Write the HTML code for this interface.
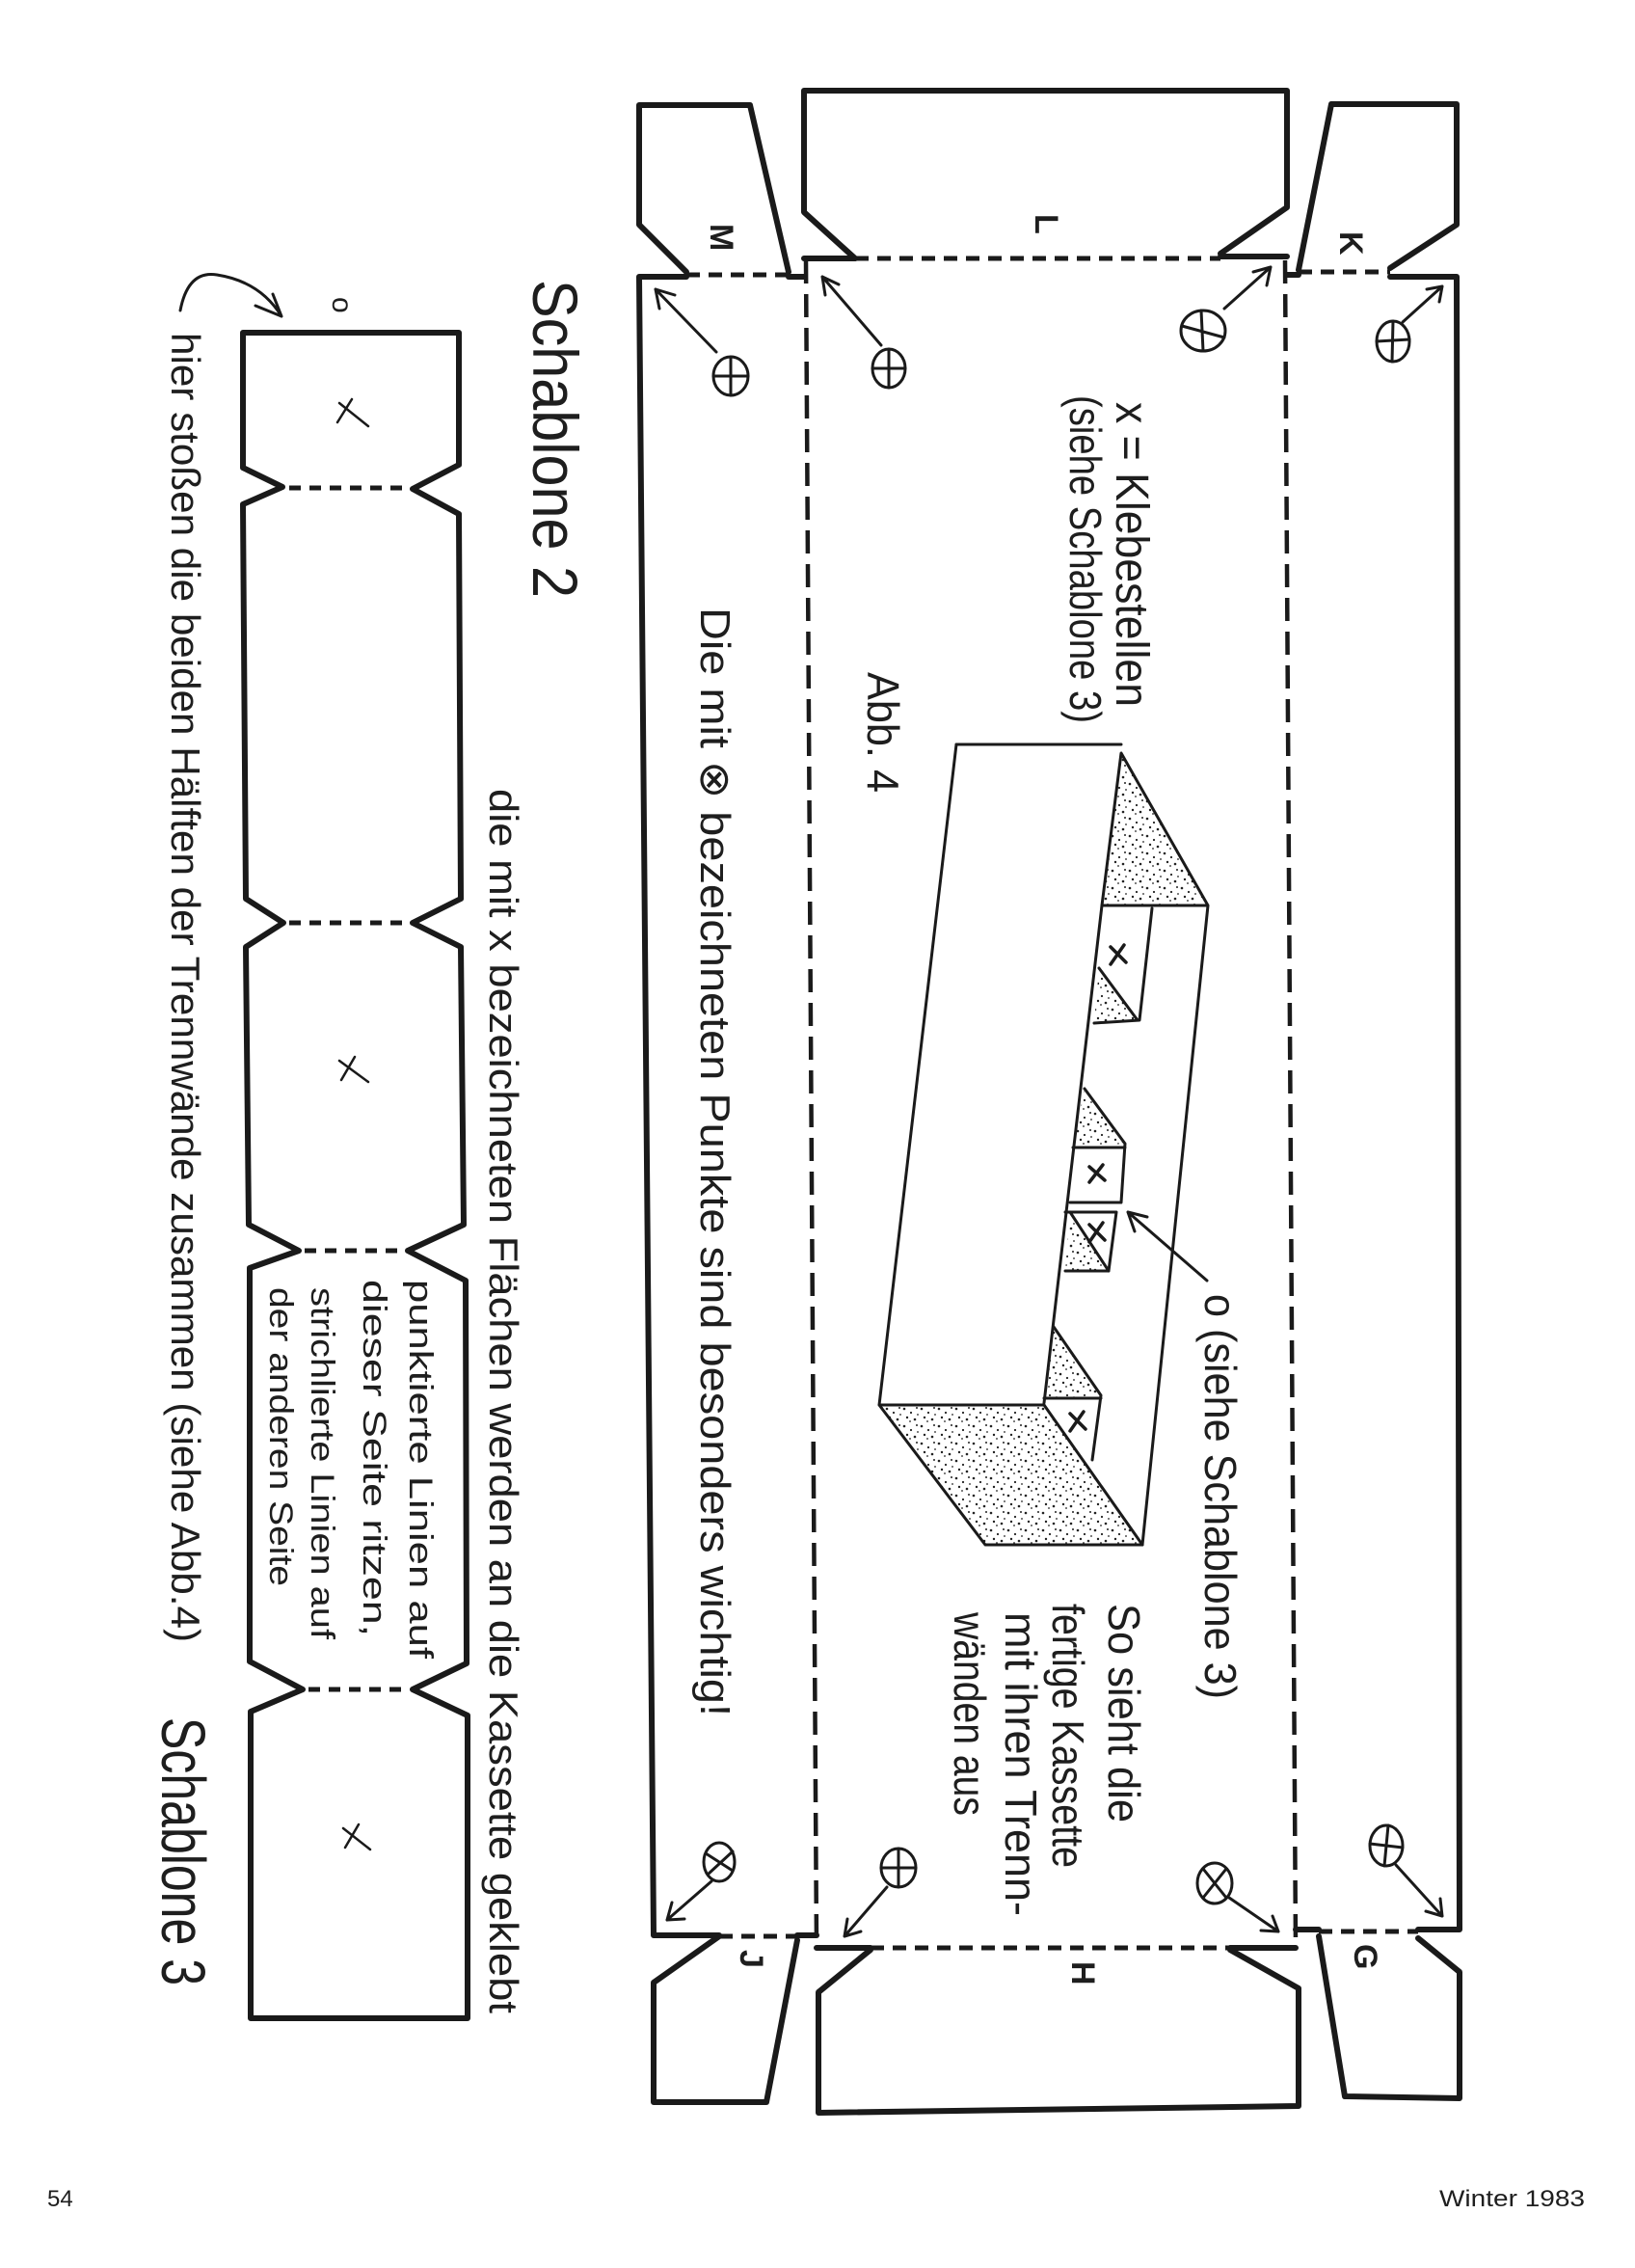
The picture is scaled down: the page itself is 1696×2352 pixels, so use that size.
<!DOCTYPE html>
<html><head><meta charset="utf-8"><style>
html,body{margin:0;padding:0;background:#fff;}
svg{display:block;}
text{font-family:"Liberation Sans",sans-serif;fill:#1e1e1e;}
</style></head><body>
<svg width="1696" height="2352" viewBox="0 0 1696 2352" xmlns="http://www.w3.org/2000/svg">
<defs>
<pattern id="st" width="18" height="18" patternUnits="userSpaceOnUse">
<circle cx="2" cy="3" r="1.3" fill="#222"/><circle cx="9" cy="7" r="1.1" fill="#222"/><circle cx="15" cy="2" r="1" fill="#222"/>
<circle cx="5" cy="12" r="1.2" fill="#222"/><circle cx="13" cy="14" r="1.3" fill="#222"/><circle cx="16" cy="9" r="0.9" fill="#222"/>
<circle cx="8" cy="16" r="0.9" fill="#222"/>
</pattern>
</defs>
<g fill="none" stroke="#1a1a1a" stroke-linejoin="round" stroke-linecap="round">
<!-- top flaps -->
<path d="M712,282 L663,233 L663,109 L778,109 L818,282" stroke-width="6"/>
<path d="M887,268 L834,220 L834,94 L1335,94 L1335,215 L1266,263" stroke-width="6"/>
<path d="M1347,280 L1381,108 L1511,108 L1511,233 L1442,278" stroke-width="6"/>
<!-- bottom flaps -->
<path d="M746,2008 L678,2056 L678,2180 L795,2180 L827,2012" stroke-width="6"/>
<path d="M903,2022 L849,2066 L849,2191 L1347,2184 L1347,2062 L1276,2022" stroke-width="6"/>
<path d="M1368,2008 L1395,2174 L1514,2176 L1514,2045 L1471,2010" stroke-width="6"/>
<!-- main outer -->
<path d="M712,287 L663,287 L678,2007 L746,2007" stroke-width="6"/>
<path d="M818,287 L834,287" stroke-width="6"/>
<path d="M1347,285 L1335,285" stroke-width="6"/>
<path d="M1442,287 L1511,287 L1514,2001 L1471,2001" stroke-width="6"/>
<path d="M1368,2001 L1344,2001" stroke-width="6"/>
<path d="M827,2007 L847,2007" stroke-width="6"/>
<!-- dashed lines -->
<g stroke-width="5" stroke-dasharray="14 9" stroke-linecap="butt">
<path d="M712,285 L818,285"/>
<path d="M887,268 L1266,268"/>
<path d="M1347,282 L1442,282"/>
<path d="M746,2008 L827,2008"/>
<path d="M903,2020 L1276,2020"/>
<path d="M1368,2003 L1471,2003"/>
</g>
<g stroke-width="4.5" stroke-dasharray="24 11" stroke-linecap="butt">
<path d="M836,270 L847,2019"/>
<path d="M1333,270 L1344,2019"/>
</g>
<path d="M834,268 L887,268 M1266,266 L1335,266" stroke-width="6"/>
<path d="M847,2020 L903,2020 M1276,2020 L1344,2020" stroke-width="6"/>

<!-- Schablone 3 strip -->
<path d="M252,345 L476,345 L476,482 L428,507 L476,533 L478,932 L428,957 L478,982 L481,1270 L423,1297 L483,1328 L484,1725 L428,1752 L485,1779 L485,2093 L260,2093 L260,1775 L314,1752 L259,1723 L259,1315 L310,1297 L258,1270 L255,982 L294,957 L255,932 L252,523 L293,505 L252,485 Z" stroke-width="6"/>
<g stroke-width="5" stroke-dasharray="12 9" stroke-linecap="butt">
<path d="M300,506 L422,506"/><path d="M300,957 L422,957"/><path d="M316,1297 L417,1297"/><path d="M320,1752 L422,1752"/>
</g>
<!-- x marks in strip -->
<g stroke-width="2.5">
<path d="M352,418 L382,442 M365,414 L350,438"/>
<path d="M352,1100 L382,1122 M368,1096 L354,1120"/>
<path d="M356,1896 L384,1918 M372,1892 L358,1916"/>
</g>
<!-- curved arrow -->
<path d="M187,322 Q195,280 225,285 Q270,292 292,328 M265,317 L292,328 L283,305" stroke-width="3"/>

<!-- circles with arrows -->
<g stroke-width="3">
<ellipse cx="758" cy="390" rx="18" ry="20"/><path d="M740,390 L776,390 M758,370 L758,410"/>
<path d="M743,365 L680,300 M680,300 L684,320 M680,300 L700,306"/>
<ellipse cx="922" cy="382" rx="17" ry="20"/><path d="M905,382 L939,382 M922,362 L922,402"/>
<path d="M914,358 L853,287 M853,287 L856,306 M853,287 L870,295"/>
<ellipse cx="1248" cy="343" rx="23" ry="21"/><path d="M1226,338 L1270,350 M1246,322 L1248,364"/>
<path d="M1270,320 L1318,277 M1318,277 L1300,282 M1318,277 L1314,296"/>
<ellipse cx="1445" cy="354" rx="17" ry="21"/><path d="M1428,354 L1462,352 M1445,333 L1444,375"/>
<path d="M1455,334 L1496,297 M1496,297 L1480,300 M1496,297 L1493,313"/>
<ellipse cx="746" cy="1931" rx="16" ry="20"/><path d="M732,1922 L760,1940 M760,1920 L734,1944"/>
<path d="M738,1951 L692,1991 M692,1991 L697,1973 M692,1991 L710,1990"/>
<ellipse cx="932" cy="1937" rx="18" ry="20"/><path d="M914,1937 L950,1937 M932,1917 L932,1957"/>
<path d="M920,1957 L876,2008 M876,2008 L879,1990 M876,2008 L893,2003"/>
<ellipse cx="1260" cy="1953" rx="18" ry="21"/><path d="M1248,1938 L1272,1968 M1272,1938 L1248,1968"/>
<path d="M1275,1968 L1326,2003 M1326,2003 L1308,2002 M1326,2003 L1320,1987"/>
<ellipse cx="1438" cy="1914" rx="17" ry="21"/><path d="M1421,1912 L1455,1916 M1440,1893 L1436,1935"/>
<path d="M1448,1934 L1496,1987 M1496,1987 L1479,1982 M1496,1987 L1494,1969"/>
</g>

<!-- box illustration -->
<polygon points="1163,781 1253,939 1143,939" fill="url(#st)" stroke="none"/>
<polygon points="912,1457 1083,1457 1185,1602 1022,1602" fill="url(#st)" stroke="none"/>
<polygon points="1140,1004 1135,1061 1180,1058" fill="url(#st)" stroke="none"/>
<polygon points="1125,1129 1167,1186 1113,1190" fill="url(#st)" stroke="none"/>
<polygon points="1110,1257 1150,1318 1105,1318" fill="url(#st)" stroke="none"/>
<polygon points="1093,1376 1142,1447 1083,1450" fill="url(#st)" stroke="none"/>
<g stroke-width="3">
<path d="M992,772 L1163,772"/>
<path d="M992,772 L912,1457 L1083,1457 M912,1457 L1022,1602 L1185,1602 L1253,939 L1163,781 L1143,939 L1253,939"/>
<path d="M1143,939 L1083,1455 M1083,1457 L1185,1602"/>
<path d="M1195,942 L1182,1058 L1135,1061 M1140,1004 L1180,1058"/>
<path d="M1125,1129 L1167,1186 L1163,1247 L1110,1247 M1113,1190 L1167,1190"/>
<path d="M1105,1257 L1158,1257 L1150,1318 L1105,1318 M1110,1257 L1150,1318"/>
<path d="M1093,1376 L1142,1447 L1133,1514 M1083,1450 L1142,1450"/>
<path d="M1252,1328 L1170,1257 M1170,1257 L1177,1277 M1170,1257 L1190,1262"/>
</g>
<g stroke-width="3.5">
<path d="M1152,982 L1168,998 M1166,980 L1152,1000"/>
<path d="M1130,1210 L1146,1224 M1144,1208 L1130,1226"/>
<path d="M1130,1270 L1146,1286 M1144,1268 L1130,1288"/>
<path d="M1110,1466 L1126,1482 M1124,1464 L1110,1484"/>
</g>
</g>

<!-- rotated text -->
<g>
<text transform="translate(553,290) rotate(90)" font-size="66" textLength="330" lengthAdjust="spacingAndGlyphs">Schablone 2</text>
<text transform="translate(345,308) rotate(90)" font-size="30">o</text>
<text transform="translate(178,345) rotate(90)" font-size="42" textLength="1358" lengthAdjust="spacingAndGlyphs">hier stoßen die beiden Hälften der Trennwände zusammen (siehe Abb.4)</text>
<text transform="translate(508,818) rotate(90)" font-size="42" textLength="1270" lengthAdjust="spacingAndGlyphs">die mit x bezeichneten Flächen werden an die Kassette geklebt</text>
<text transform="translate(168,1781) rotate(90)" font-size="64" textLength="278" lengthAdjust="spacingAndGlyphs">Schablone 3</text>
<text transform="translate(425,1327) rotate(90)" font-size="34" textLength="393" lengthAdjust="spacingAndGlyphs">punktierte Linien auf</text>
<text transform="translate(377,1327) rotate(90)" font-size="34" textLength="370" lengthAdjust="spacingAndGlyphs">dieser Seite ritzen,</text>
<text transform="translate(323,1335) rotate(90)" font-size="34" textLength="365" lengthAdjust="spacingAndGlyphs">strichlierte Linien auf</text>
<text transform="translate(280,1335) rotate(90)" font-size="34" textLength="310" lengthAdjust="spacingAndGlyphs">der anderen Seite</text>
<text transform="translate(1158,417) rotate(90)" font-size="48" textLength="316" lengthAdjust="spacingAndGlyphs">x = Klebestellen</text>
<text transform="translate(1110,410) rotate(90)" font-size="46" textLength="340" lengthAdjust="spacingAndGlyphs">(siehe Schablone 3)</text>
<text transform="translate(900,697) rotate(90)" font-size="46" textLength="125" lengthAdjust="spacingAndGlyphs">Abb. 4</text>
<text transform="translate(727,630) rotate(90)" font-size="44" textLength="1150" lengthAdjust="spacingAndGlyphs">Die mit ⊗ bezeichneten Punkte sind besonders wichtig!</text>
<text transform="translate(1250,1342) rotate(90)" font-size="46" textLength="420" lengthAdjust="spacingAndGlyphs">o (siehe Schablone 3)</text>
<text transform="translate(1150,1663) rotate(90)" font-size="46" textLength="227" lengthAdjust="spacingAndGlyphs">So sieht die</text>
<text transform="translate(1092,1663) rotate(90)" font-size="46" textLength="274" lengthAdjust="spacingAndGlyphs">fertige Kassette</text>
<text transform="translate(1043,1672) rotate(90)" font-size="46" textLength="315" lengthAdjust="spacingAndGlyphs">mit ihren Trenn-</text>
<text transform="translate(990,1672) rotate(90)" font-size="46" textLength="211" lengthAdjust="spacingAndGlyphs">wänden aus</text>
<g font-weight="bold" font-size="34">
<text transform="translate(737,232) rotate(90)">M</text>
<text transform="translate(1074,222) rotate(90)">L</text>
<text transform="translate(1390,240) rotate(90)">K</text>
<text transform="translate(1112,2034) rotate(90)">H</text>
<text transform="translate(768,2022) rotate(90)">J</text>
<text transform="translate(1405,2016) rotate(90)">G</text>
</g>
</g>
<text x="49" y="2288" font-size="24">54</text>
<text x="1493" y="2288" font-size="24" textLength="151" lengthAdjust="spacingAndGlyphs">Winter  1983</text>
</svg>
</body></html>
